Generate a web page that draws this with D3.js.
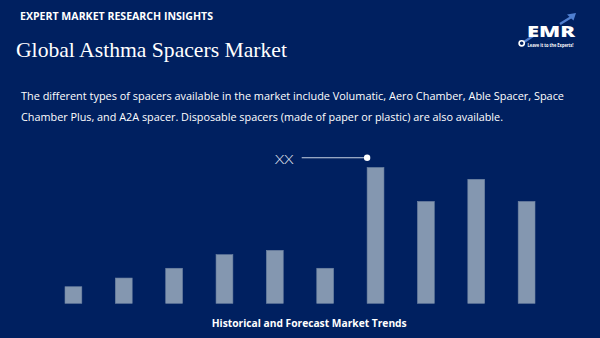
<!DOCTYPE html>
<html>
<head>
<meta charset="utf-8">
<script src="https://cdn.jsdelivr.net/npm/d3@7/dist/d3.min.js"></script>
<style>
  html, body { margin: 0; padding: 0; background: #002060; }
  svg { display: block; }
</style>
</head>
<body>
<script>
// ---- data ----
const categories = ["2018", "2019", "2020", "2021", "2022", "2023", "2024", "2025", "2026", "2027"];
const values = [1.22, 1.86, 2.58, 3.58, 3.9, 2.58, 10, 7.5, 9.13, 7.5];
const annotationLabel = "XX";
const annotationIndex = 6;
const headerText = "EXPERT MARKET RESEARCH INSIGHTS";
const titleText = "Global Asthma Spacers Market";
const descLines = [
  "The different types of spacers available in the market include Volumatic, Aero Chamber, Able Spacer, Space",
  "Chamber Plus, and A2A spacer. Disposable spacers (made of paper or plastic) are also available."
];
const footerText = "Historical and Forecast Market Trends";

const W = 600, H = 338;
const svg = d3.select("body").append("svg").attr("width", W).attr("height", H);
svg.append("rect").attr("width", W).attr("height", H).attr("fill", "#002060");

// header
svg.append("text").attr("x", 20).attr("y", 20)
  .attr("font-family", "Open Sans").attr("font-weight", 700).attr("font-size", 10)
  .attr("fill", "#ffffff").attr("textLength", 193).attr("lengthAdjust", "spacingAndGlyphs")
  .text(headerText);

svg.append("text").attr("x", 16).attr("y", 57.3)
  .attr("font-family", "Liberation Serif").attr("font-size", 22)
  .attr("fill", "#ffffff").attr("textLength", 271).attr("lengthAdjust", "spacingAndGlyphs")
  .text(titleText);

const descLens = [543, 482];
descLines.forEach((t, i) => {
  svg.append("text").attr("x", 21).attr("y", 100 + i * 21.3)
    .attr("font-family", "Open Sans").attr("font-size", 11)
    .attr("fill", "#ffffff").attr("textLength", descLens[i]).attr("lengthAdjust", "spacingAndGlyphs")
    .text(t);
});

// logo
const logo = svg.append("g");
logo.append("path")
  .attr("d", "M524,42 L533,36 M560,24 L573,16")
  .attr("stroke", "#4f7fd0").attr("stroke-width", 2.4).attr("fill", "none");
logo.append("path")
  .attr("d", "M576,13 L567,14.5 L573.5,20.5 Z")
  .attr("fill", "#4f7fd0");
logo.append("text").attr("x", 527).attr("y", 37.3)
  .attr("font-family", "Open Sans").attr("font-weight", 800).attr("font-size", 16)
  .attr("fill", "#ffffff").attr("textLength", 48).attr("lengthAdjust", "spacingAndGlyphs")
  .text("EMR");
logo.append("circle").attr("cx", 521.7).attr("cy", 43.3).attr("r", 2.6)
  .attr("fill", "none").attr("stroke", "#ffffff").attr("stroke-width", 1.6);
logo.append("text").attr("x", 527.5).attr("y", 46.6)
  .attr("font-family", "Open Sans").attr("font-weight", 700).attr("font-size", 4.3)
  .attr("fill", "#ffffff").attr("textLength", 46).attr("lengthAdjust", "spacingAndGlyphs")
  .text("Leave it to the Experts!");

// chart
const x = d3.scaleBand().domain(categories).range([65, 535]).paddingInner(0.666).paddingOuter(0);
const y = d3.scaleLinear().domain([0, 10]).range([303.3, 167.5]);

svg.append("g").selectAll("rect").data(values).join("rect")
  .attr("x", (d, i) => x(categories[i]))
  .attr("y", d => y(d))
  .attr("width", x.bandwidth())
  .attr("height", d => y(0) - y(d))
  .attr("fill", "#8497b0")
  .attr("stroke", "#6f84a3").attr("stroke-width", 0.6);

// annotation
const ax = x(categories[annotationIndex]);
const ay = 157.7;
svg.append("line").attr("x1", 301.7).attr("x2", ax).attr("y1", ay).attr("y2", ay)
  .attr("stroke", "#c9d3e3").attr("stroke-width", 1.1);
svg.append("circle").attr("cx", ax).attr("cy", ay).attr("r", 3.2).attr("fill", "#ffffff");
svg.append("text").attr("x", 275).attr("y", 164)
  .attr("font-family", "Open Sans").attr("font-weight", 300).attr("font-size", 12.6)
  .attr("fill", "#e3e8f1").attr("textLength", 18.3).attr("lengthAdjust", "spacingAndGlyphs")
  .text(annotationLabel);

// footer
svg.append("text").attr("x", 211.7).attr("y", 327.3)
  .attr("font-family", "Open Sans").attr("font-weight", 700).attr("font-size", 10)
  .attr("fill", "#ffffff").attr("textLength", 195).attr("lengthAdjust", "spacingAndGlyphs")
  .text(footerText);
</script>
</body>
</html>
